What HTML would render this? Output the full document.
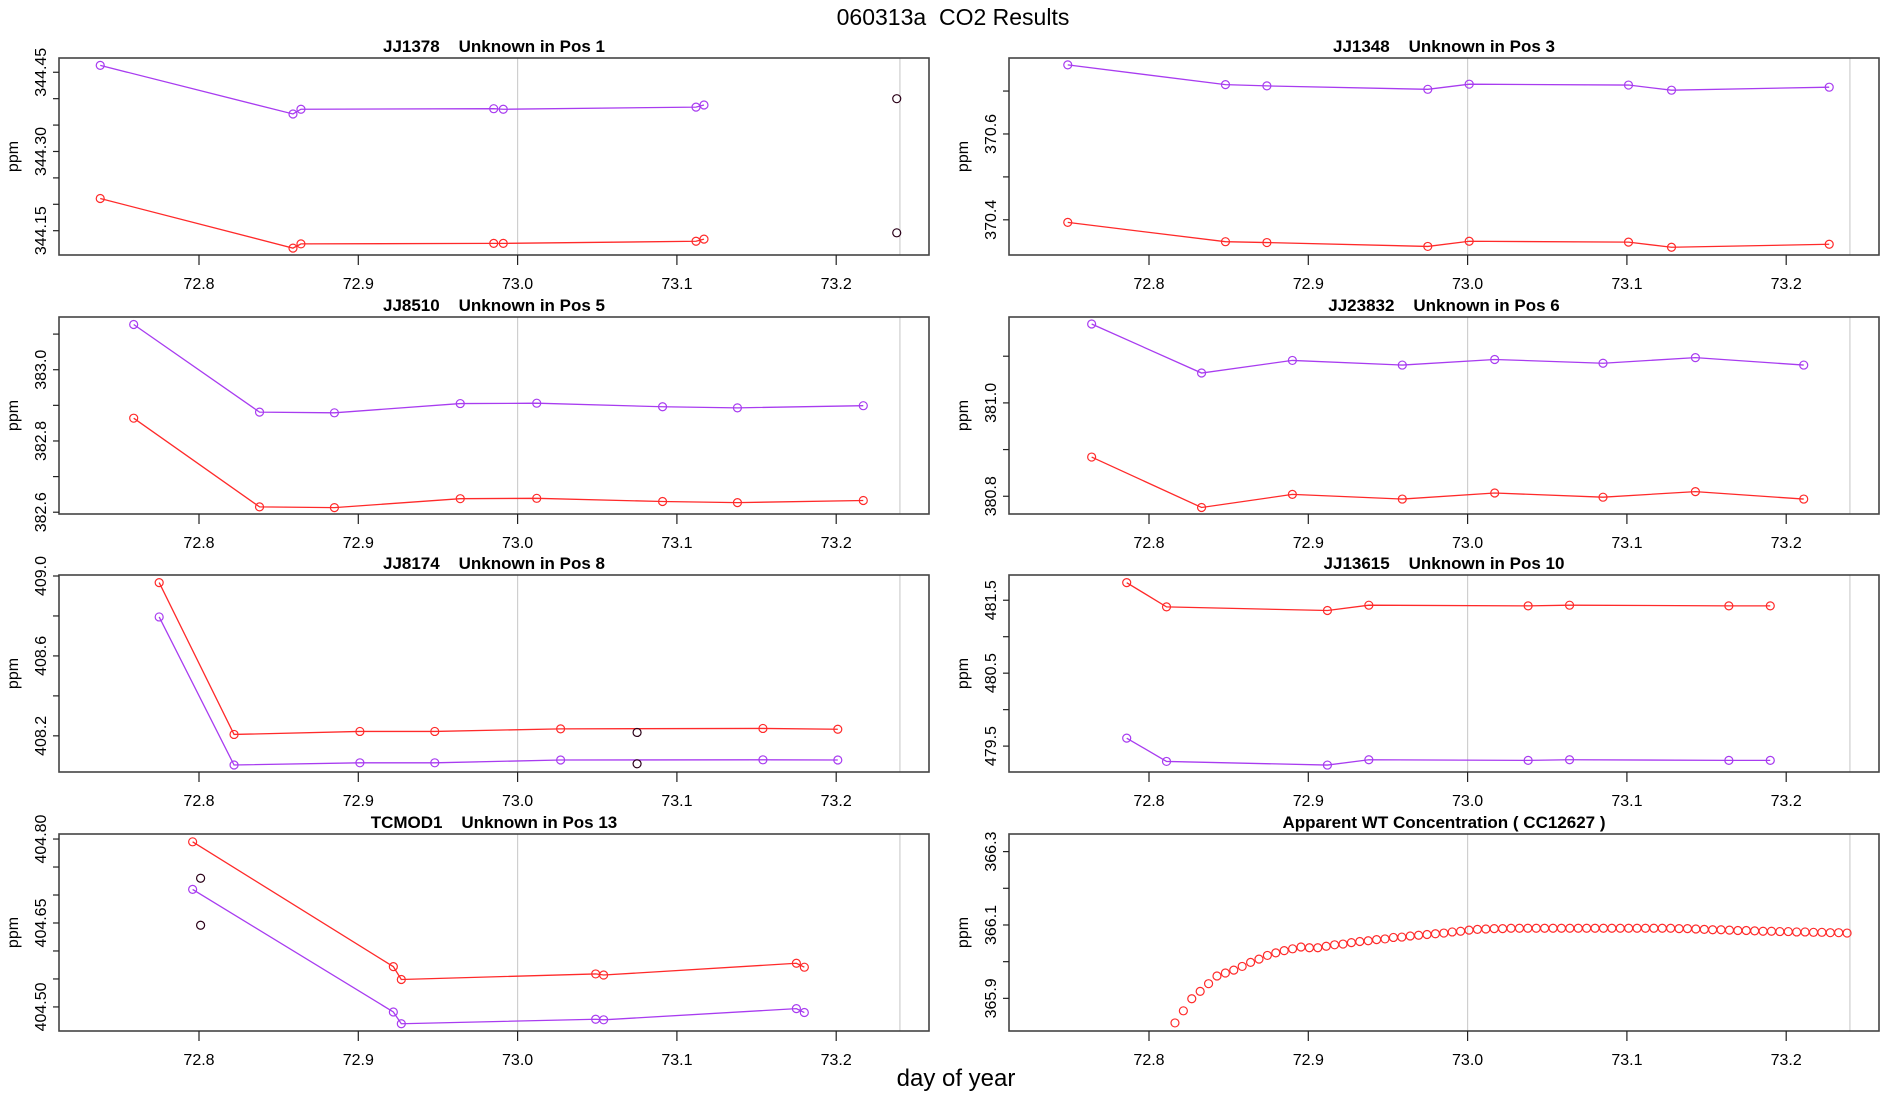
<!DOCTYPE html>
<html><head><meta charset="utf-8"><style>
html,body{margin:0;padding:0;background:#fff;}
svg{display:block;font-family:"Liberation Sans",sans-serif;}
svg text{white-space:pre;}
</style></head><body>
<svg id="chart" width="1900" height="1100" viewBox="0 0 1900 1100" xmlns="http://www.w3.org/2000/svg" xml:space="preserve">
<text x="953" y="25" font-size="23" text-anchor="middle">060313a  CO2 Results</text>
<text x="956" y="1086" font-size="24" text-anchor="middle">day of year</text>
</svg>
<script>
// x tick labels
const xTicks = [72.8, 72.9, 73.0, 73.1, 73.2];
const refLines = [73.0, 73.24];

// Panel 1: JJ1378
const p1x = [72.738, 72.859, 72.864, 72.985, 72.991, 73.112, 73.117];
const p1purple = [344.463, 344.371, 344.380, 344.381, 344.380, 344.384, 344.388];
const p1red = [344.211, 344.117, 344.125, 344.126, 344.126, 344.130, 344.134];
const p1darkX = [73.238, 73.238];
const p1dark = [344.400, 344.146];
// Panel 2: JJ1348
const p2x = [72.749, 72.848, 72.874, 72.975, 73.001, 73.101, 73.128, 73.227];
const p2purple = [370.761, 370.715, 370.712, 370.704, 370.716, 370.714, 370.702, 370.709];
const p2red = [370.394, 370.349, 370.347, 370.338, 370.350, 370.348, 370.336, 370.343];
// Panel 3: JJ8510
const p3x = [72.759, 72.838, 72.885, 72.964, 73.012, 73.091, 73.138, 73.217];
const p3purple = [383.127, 382.881, 382.879, 382.905, 382.906, 382.896, 382.893, 382.899];
const p3red = [382.864, 382.615, 382.613, 382.638, 382.639, 382.630, 382.627, 382.633];
// Panel 4: JJ23832
const p4x = [72.764, 72.833, 72.890, 72.959, 73.017, 73.085, 73.143, 73.211];
const p4purple = [381.169, 381.064, 381.091, 381.081, 381.093, 381.085, 381.097, 381.081];
const p4red = [380.884, 380.776, 380.804, 380.794, 380.807, 380.798, 380.810, 380.794];
// Panel 5: JJ8174
const p5x = [72.775, 72.822, 72.901, 72.948, 73.027, 73.154, 73.201];
const p5red = [408.967, 408.207, 408.222, 408.222, 408.235, 408.237, 408.233];
const p5purple = [408.795, 408.054, 408.065, 408.065, 408.079, 408.080, 408.079];
const p5darkX = [73.075, 73.075];
const p5dark = [408.217, 408.060];
// Panel 6: JJ13615
const p6x = [72.786, 72.811, 72.912, 72.938, 73.038, 73.064, 73.164, 73.190];
const p6red = [481.741, 481.409, 481.359, 481.432, 481.423, 481.432, 481.423, 481.423];
const p6purple = [479.609, 479.290, 479.240, 479.313, 479.304, 479.313, 479.304, 479.304];
// Panel 7: TCMOD1
const p7x = [72.796, 72.922, 72.927, 73.049, 73.054, 73.175, 73.180];
const p7red = [404.795, 404.572, 404.549, 404.559, 404.557, 404.578, 404.571];
const p7purple = [404.710, 404.491, 404.470, 404.478, 404.477, 404.497, 404.490];
const p7darkX = [72.801, 72.801];
const p7dark = [404.730, 404.646];
// Panel 8: Apparent WT concentration (81 points, evenly spaced in time)
const p8start = 72.8163;
const p8step = 0.005274;
const p8values = [365.833,365.866,365.899,365.919,365.940,365.961,365.969,365.977,365.987,365.998,
366.007,366.017,366.024,366.030,366.035,366.040,366.038,366.038,366.042,366.046,
366.048,366.052,366.055,366.057,366.060,366.062,366.066,366.067,366.070,366.072,
366.074,366.076,366.078,366.081,366.083,366.086,366.088,366.089,366.090,
366.090,366.091,366.091,366.091,366.091,366.091,366.091,366.091,366.091,366.091,
366.091,366.091,366.091,366.091,366.091,366.091,366.091,366.091,366.091,366.091,
366.091,366.090,366.090,366.089,
366.088,366.087,366.087,366.086,366.085,366.085,366.084,366.083,366.083,366.082,
366.082,366.081,366.081,366.080,366.080,366.079,366.079,366.078];

// y ranges and tick values per panel
const p1yTicks = [344.15,344.20,344.25,344.30,344.35,344.40,344.45];
const p1yLabels = ["344.15","344.30","344.45"];
const p2yTicks = [370.4,370.5,370.6,370.7];
const p2yLabels = ["370.4","370.6"];
const p3yTicks = [382.6,382.7,382.8,382.9,383.0,383.1];
const p3yLabels = ["382.6","382.8","383.0"];
const p4yTicks = [380.8,380.9,381.0,381.1];
const p4yLabels = ["380.8","381.0"];
const p5yTicks = [408.2,408.4,408.6,408.8,409.0];
const p5yLabels = ["408.2","408.6","409.0"];
const p6yTicks = [479.5,480.0,480.5,481.0,481.5];
const p6yLabels = ["479.5","480.5","481.5"];
const p7yTicks = [404.50,404.55,404.60,404.65,404.70,404.75,404.80];
const p7yLabels = ["404.50","404.65","404.80"];
const p8yTicks = [365.9,366.0,366.1,366.2,366.3];
const p8yLabels = ["365.9","366.1","366.3"];

const NS = "http://www.w3.org/2000/svg";
const svg = document.getElementById('chart');
const PURPLE = "#a83cf0", RED = "#ff2a2a", DARK = "#2a0018";

function mk(tag, attrs, parent) {
  const e = document.createElementNS(NS, tag);
  for (const k in attrs) e.setAttribute(k, attrs[k]);
  (parent || svg).appendChild(e);
  return e;
}

function panel(cfg) {
  const g = mk('g', {});
  
  
  const L = cfg.left, R = cfg.left + 870, T = cfg.top, B = cfg.top + 197;
  const xs = d => L + 140 + (d - 72.8) * 1593;
  const ys = v => B - (v - cfg.ymin) / (cfg.ymax - cfg.ymin) * (B - T);
  refLines.forEach(r => {
    const l = mk('line', {x1: xs(r), x2: xs(r), y1: T, y2: B, stroke: '#cfcfcf', 'stroke-width': 1.2}, g);
    
    
  });
  const fr = mk('rect', {x: L, y: T, width: 870, height: B - T, fill: 'none', stroke: '#444', 'stroke-width': 1.6}, g);
  
  
  const t = mk('text', {x: (L + R) / 2, y: T - 6, 'font-size': 17, 'font-weight': 'bold', 'text-anchor': 'middle'}, g);
  t.textContent = cfg.title;
  
  
  xTicks.forEach(v => {
    mk('line', {x1: xs(v), x2: xs(v), y1: B, y2: B + 10, stroke: '#222', 'stroke-width': 1.2}, g);
    const tl = mk('text', {x: xs(v), y: B + 34, 'font-size': 16, 'text-anchor': 'middle'}, g);
    tl.textContent = v.toFixed(1);
    
    
  });
  cfg.yTicks.forEach(v => {
    mk('line', {x1: L - 6, x2: L, y1: ys(v), y2: ys(v), stroke: '#222', 'stroke-width': 1.2}, g);
  });
  cfg.yLabels.forEach(s => {
    const y = ys(parseFloat(s));
    const tl = mk('text', {x: 0, y: 0, 'font-size': 16, 'text-anchor': 'middle', transform: `translate(${L - 13},${y}) rotate(-90)`}, g);
    tl.textContent = s;
    
    
  });
  const yt = mk('text', {x: 0, y: 0, 'font-size': 16, 'text-anchor': 'middle', transform: `translate(${L - 41},${(T + B) / 2}) rotate(-90)`}, g);
  yt.textContent = 'ppm';
  
  
  cfg.series.forEach(s => {
    if (s.line) {
      const pl = mk('polyline', {points: s.x.map((d, i) => xs(d) + ',' + ys(s.y[i])).join(' '), fill: 'none', stroke: s.color, 'stroke-width': 1.3}, g);
      
      
    }
    s.x.forEach((d, i) => {
      const c = mk('circle', {cx: xs(d), cy: ys(s.y[i]), r: 4, fill: 'none', stroke: s.color, 'stroke-width': 1.2}, g);
      
      
    });
  });
}

const LX = 59, RX = 1009, TOPS = [58, 317, 575, 834];
panel({name: 'panel-jj1378', title: 'JJ1378    Unknown in Pos 1', left: LX, top: TOPS[0], ymin: 344.104, ymax: 344.477, yTicks: p1yTicks, yLabels: p1yLabels,
  series: [{name: 'purple', color: PURPLE, x: p1x, y: p1purple, line: true}, {name: 'red', color: RED, x: p1x, y: p1red, line: true}, {name: 'dark', color: DARK, x: p1darkX, y: p1dark, line: false}]});
panel({name: 'panel-jj1348', title: 'JJ1348    Unknown in Pos 3', left: RX, top: TOPS[0], ymin: 370.318, ymax: 370.777, yTicks: p2yTicks, yLabels: p2yLabels,
  series: [{name: 'purple', color: PURPLE, x: p2x, y: p2purple, line: true}, {name: 'red', color: RED, x: p2x, y: p2red, line: true}]});
panel({name: 'panel-jj8510', title: 'JJ8510    Unknown in Pos 5', left: LX, top: TOPS[1], ymin: 382.595, ymax: 383.148, yTicks: p3yTicks, yLabels: p3yLabels,
  series: [{name: 'purple', color: PURPLE, x: p3x, y: p3purple, line: true}, {name: 'red', color: RED, x: p3x, y: p3red, line: true}]});
panel({name: 'panel-jj23832', title: 'JJ23832    Unknown in Pos 6', left: RX, top: TOPS[1], ymin: 380.762, ymax: 381.184, yTicks: p4yTicks, yLabels: p4yLabels,
  series: [{name: 'purple', color: PURPLE, x: p4x, y: p4purple, line: true}, {name: 'red', color: RED, x: p4x, y: p4red, line: true}]});
panel({name: 'panel-jj8174', title: 'JJ8174    Unknown in Pos 8', left: LX, top: TOPS[2], ymin: 408.019, ymax: 409.005, yTicks: p5yTicks, yLabels: p5yLabels,
  series: [{name: 'red', color: RED, x: p5x, y: p5red, line: true}, {name: 'purple', color: PURPLE, x: p5x, y: p5purple, line: true}, {name: 'dark', color: DARK, x: p5darkX, y: p5dark, line: false}]});
panel({name: 'panel-jj13615', title: 'JJ13615    Unknown in Pos 10', left: RX, top: TOPS[2], ymin: 479.145, ymax: 481.846, yTicks: p6yTicks, yLabels: p6yLabels,
  series: [{name: 'red', color: RED, x: p6x, y: p6red, line: true}, {name: 'purple', color: PURPLE, x: p6x, y: p6purple, line: true}]});
panel({name: 'panel-tcmod1', title: 'TCMOD1    Unknown in Pos 13', left: LX, top: TOPS[3], ymin: 404.457, ymax: 404.809, yTicks: p7yTicks, yLabels: p7yLabels,
  series: [{name: 'red', color: RED, x: p7x, y: p7red, line: true}, {name: 'purple', color: PURPLE, x: p7x, y: p7purple, line: true}, {name: 'dark', color: DARK, x: p7darkX, y: p7dark, line: false}]});
const p8x = p8values.map((v, i) => p8start + i * p8step);
panel({name: 'panel-apparent-wt', title: 'Apparent WT Concentration ( CC12627 )', left: RX, top: TOPS[3], ymin: 365.811, ymax: 366.348, yTicks: p8yTicks, yLabels: p8yLabels,
  series: [{name: 'wt-concentration', color: RED, x: p8x, y: p8values, line: false}]});
</script>
</body></html>
